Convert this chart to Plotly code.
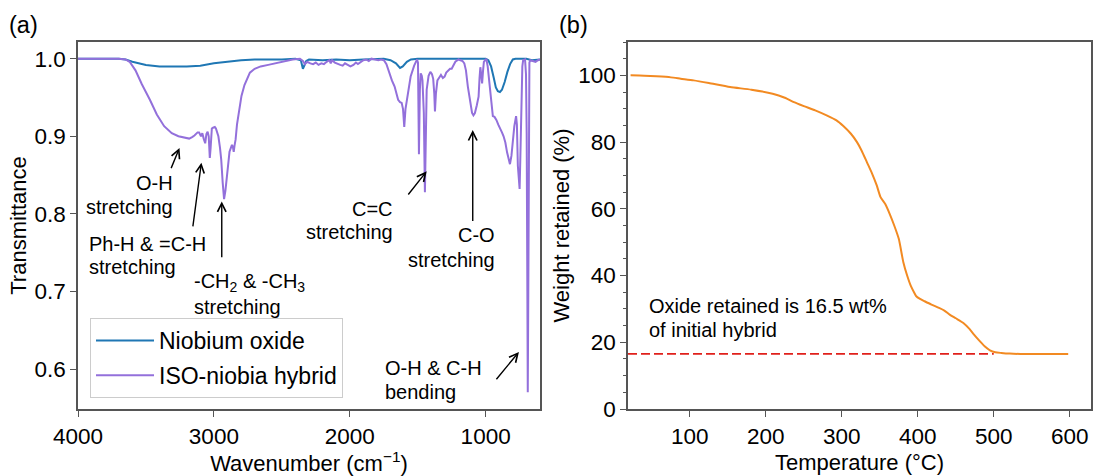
import plotly.graph_objects as go

# ---------------- data: FTIR (panel a) ----------------
wn_oxide = [4000, 3700, 3650, 3600, 3500, 3400, 3300, 3200, 3100, 3000, 2900, 2800, 2700, 2500,
            2400, 2360, 2345, 2335, 2320, 2300, 2200, 2100, 2000, 1900, 1750, 1700, 1660, 1630,
            1610, 1580, 1550, 1500, 1000, 980, 960, 940, 925, 910, 895, 880, 860, 840, 820, 800,
            780, 700, 660, 600]
t_oxide = [1.0, 1.0, 0.999, 0.996, 0.992, 0.990, 0.990, 0.990, 0.991, 0.994, 0.996, 0.998, 0.999, 0.999,
           1.0, 0.998, 0.987, 0.992, 0.997, 0.999, 0.998, 0.999, 0.998, 0.999, 1.0, 0.998, 0.994, 0.988,
           0.990, 0.996, 0.999, 1.0, 1.0, 0.998, 0.990, 0.975, 0.963, 0.958, 0.957, 0.960, 0.970, 0.983,
           0.993, 0.999, 1.0, 1.0, 0.998, 0.999]

wn_hybrid = [4000, 3700, 3650, 3620, 3577, 3530, 3471, 3420, 3366, 3310, 3261, 3220, 3182, 3160, 3143,
             3120, 3109, 3095, 3085, 3075, 3064, 3055, 3046, 3038, 3030, 3024, 3015, 3006, 2993, 2985,
             2967, 2955, 2946, 2935, 2925, 2915, 2906, 2895, 2885, 2875, 2867, 2860, 2854, 2848, 2840,
             2830, 2814, 2797, 2775, 2755, 2735, 2700, 2656, 2600, 2577, 2520, 2472, 2420, 2367, 2345,
             2330, 2314, 2290, 2270, 2250, 2230, 2209, 2190, 2170, 2150, 2140, 2130, 2110, 2090, 2070,
             2052, 2035, 2015, 1995, 1973, 1955, 1940, 1920, 1900, 1880, 1860, 1841, 1820, 1790, 1770,
             1749, 1730, 1710, 1690, 1670, 1660, 1644, 1630, 1618, 1608, 1599, 1590, 1583, 1570, 1552,
             1526, 1505, 1498, 1491, 1484, 1478, 1470, 1465, 1455, 1447, 1440, 1434, 1420, 1407, 1395,
             1386, 1378, 1373, 1366, 1355, 1340, 1329, 1315, 1302, 1290, 1276, 1262, 1250, 1235, 1223,
             1200, 1184, 1170, 1157, 1145, 1131, 1115, 1100, 1090, 1079, 1065, 1052, 1045, 1039, 1033,
             1026, 1019, 1013, 1000, 994, 985, 973, 960, 947, 935, 921, 907, 894, 880, 868, 855, 842,
             830, 821, 810, 800, 789, 776, 770, 763, 756, 750, 745, 737, 730, 724, 710, 703, 698, 693,
             690, 686, 682, 678, 672, 650, 633, 615, 600]
t_hybrid = [1.0, 1.0, 0.999, 0.996, 0.985, 0.967, 0.947, 0.928, 0.913, 0.904, 0.900, 0.898, 0.897, 0.899, 0.901,
            0.905, 0.905, 0.900, 0.904, 0.897, 0.891, 0.903, 0.906, 0.900, 0.872, 0.885, 0.910, 0.911, 0.912, 0.910,
            0.900, 0.885, 0.870, 0.840, 0.819, 0.830, 0.847, 0.870, 0.880, 0.885, 0.889, 0.886, 0.880, 0.888, 0.896,
            0.915, 0.934, 0.952, 0.966, 0.975, 0.982, 0.987, 0.990, 0.992, 0.993, 0.995, 0.997, 0.999, 1.0, 0.997,
            0.993, 0.996, 0.994, 0.993, 0.995, 0.992, 0.994, 0.993, 0.996, 0.998, 0.994, 0.998, 0.995, 0.993, 0.992,
            0.991, 0.994, 0.992, 0.990, 0.992, 0.995, 0.993, 0.996, 0.998, 0.999, 0.997, 1.0, 0.999, 0.998, 0.999,
            0.998, 0.993, 0.981, 0.972, 0.964, 0.958, 0.947, 0.944, 0.943, 0.935, 0.912, 0.935, 0.943, 0.962, 0.977,
            0.991, 0.999, 0.995, 0.877, 0.960, 0.981, 0.978, 0.972, 0.930, 0.828, 0.900, 0.960, 0.978, 0.983, 0.980,
            0.974, 0.955, 0.932, 0.955, 0.972, 0.976, 0.979, 0.975, 0.977, 0.982, 0.985, 0.987, 0.987, 0.993, 0.996,
            0.999, 0.998, 0.997, 0.994, 0.985, 0.964, 0.945, 0.930, 0.927, 0.930, 0.940, 0.951, 0.975, 0.989, 0.980,
            0.968, 0.985, 0.996, 0.999, 0.999, 0.990, 0.972, 0.950, 0.926, 0.925, 0.921, 0.915, 0.909, 0.905, 0.900, 0.892, 0.879,
            0.868, 0.864, 0.875, 0.895, 0.913, 0.926, 0.915, 0.862, 0.835, 0.832, 0.870, 0.947, 0.990, 0.998, 0.999, 0.980, 0.904, 0.700,
            0.570, 0.700, 0.950, 0.995, 0.998, 0.997, 0.996, 0.998, 0.999]

# ---------------- data: TGA (panel b) ----------------
temp_c = [22, 40, 56, 75, 88, 105, 125, 153, 181, 209, 225, 237, 250, 265, 280, 293, 302, 312, 320, 326,
          333, 340, 346, 351, 357, 363, 369, 375, 381, 386, 391, 395, 398, 403, 409, 418, 428, 435, 442,
          450, 460, 468, 474, 481, 488, 495, 502, 510, 521, 535, 553, 575, 598]
weight_pct = [100.0, 99.9, 99.7, 99.4, 99.0, 98.5, 97.7, 96.5, 95.7, 94.5, 93.3, 92.0, 90.8, 89.5, 88.0, 86.5,
              84.8, 82.5, 80.0, 77.5, 74.0, 70.5, 67.0, 63.5, 61.5, 58.5, 55.0, 51.0, 44.0, 40.0, 36.8, 35.0,
              33.8, 33.0, 32.3, 31.3, 30.3, 29.5, 28.3, 27.2, 25.8, 24.0, 22.3, 20.5, 18.8, 17.6, 17.0, 16.8,
              16.6, 16.5, 16.5, 16.5, 16.5]
oxide_level_t = [18.6, 500]
oxide_level_w = [16.5, 16.5]

ftir_ticks = [4000, 3000, 2000, 1000]
trans_ticks = [0.6, 0.7, 0.8, 0.9, 1.0]
temp_ticks = [100, 200, 300, 400, 500, 600]
weight_ticks = [0, 20, 40, 60, 80, 100]

# ---------------- figure ----------------
W, H = 1094, 476
FONT = "Liberation Sans, Arial, sans-serif"
AX = "#555555"
BLUE = "#1f77b4"
PURPLE = "#9370DB"
ORANGE = "#f28a22"

fig = go.Figure()
fig.add_trace(go.Scatter(x=wn_oxide, y=t_oxide, mode="lines", name="Niobium oxide",
                         line=dict(color=BLUE, width=2), legendgroup="a", xaxis="x", yaxis="y"))
fig.add_trace(go.Scatter(x=wn_hybrid, y=t_hybrid, mode="lines", name="ISO-niobia hybrid",
                         line=dict(color=PURPLE, width=2), legendgroup="b", xaxis="x", yaxis="y"))
fig.add_trace(go.Scatter(x=oxide_level_t, y=oxide_level_w, mode="lines", showlegend=False,
                         line=dict(color="#e0201b", width=1.8, dash="9px,4px"), xaxis="x2", yaxis="y2"))
fig.add_trace(go.Scatter(x=temp_c, y=weight_pct, mode="lines", showlegend=False,
                         line=dict(color=ORANGE, width=2, shape="spline", smoothing=0.6),
                         xaxis="x2", yaxis="y2"))


def px_x(p):
    return p / W


def px_y(p):
    return 1 - p / H


common = dict(showline=True, linecolor=AX, linewidth=1.5, mirror=True, ticks="outside", ticklen=6,
              tickwidth=1.3, tickcolor=AX, showgrid=False, zeroline=False, automargin=False,
              tickfont=dict(size=22.5, color="black", family=FONT))

fig.update_layout(
    template="none",
    width=W, height=H, margin=dict(l=0, r=0, t=0, b=0, autoexpand=False),
    paper_bgcolor="white", plot_bgcolor="white",
    font=dict(family=FONT, color="black"),
    xaxis=dict(domain=[px_x(78), px_x(540)], range=[4000, 600], tickvals=ftir_ticks,
               title=dict(text="Wavenumber (cm<sup>−1</sup>)", font=dict(size=22), standoff=7),
               anchor="y", **common),
    yaxis=dict(domain=[px_y(409), px_y(42)], range=[0.5485, 1.0215], tickvals=trans_ticks,
               tickformat=".1f",
               title=dict(text="Transmittance", font=dict(size=22), standoff=2),
               anchor="x", **common),
    xaxis2=dict(domain=[px_x(628), px_x(1091)], range=[18.6, 628], tickvals=temp_ticks,
                title=dict(text="Temperature (°C)", font=dict(size=22), standoff=7),
                anchor="y2", **common),
    yaxis2=dict(domain=[px_y(409), px_y(42)], range=[0, 110], tickvals=weight_ticks,
                minor=dict(dtick=5, ticks="outside", ticklen=3, tickcolor=AX, tickwidth=1, showgrid=False),
                title=dict(text="Weight retained (%)", font=dict(size=22), standoff=3),
                anchor="x2", **common),
    legend=dict(x=px_x(90), y=px_y(398), xanchor="left", yanchor="bottom",
                bgcolor="rgba(255,255,255,0.85)", bordercolor="#cccccc", borderwidth=1,
                font=dict(size=23, family=FONT, color="black"), tracegroupgap=2, itemwidth=58),
    showlegend=True,
)

ann = []
# panel labels
ann.append(dict(text="(a)", x=px_x(7), y=px_y(25), xref="paper", yref="paper", xanchor="left",
                yanchor="middle", showarrow=False, font=dict(size=23.5)))
ann.append(dict(text="(b)", x=px_x(557), y=px_y(25), xref="paper", yref="paper", xanchor="left",
                yanchor="middle", showarrow=False, font=dict(size=23.5)))

# panel (a) text lines: (text, x, y, anchor)
lines_a = [
    ("O-H", 3285, 0.840, "right"), ("stretching", 3285, 0.809, "right"),
    ("Ph-H & =C-H", 3937, 0.761, "left"), ("stretching", 3937, 0.731, "left"),
    ("-CH<sub>2</sub> & -CH<sub>3</sub>", 3160, 0.711, "left"), ("stretching", 3160, 0.680, "left"),
    ("C=C", 1665, 0.806, "right"), ("stretching", 1665, 0.776, "right"),
    ("C-O", 915, 0.773, "right"), ("stretching", 915, 0.741, "right"),
    ("O-H & C-H", 1759, 0.601, "left"), ("bending", 1759, 0.570, "left"),
]
for t, x, y, a in lines_a:
    ann.append(dict(text=t, x=x, y=y, xref="x", yref="y", xanchor=a, yanchor="middle",
                    showarrow=False, font=dict(size=20)))

# arrows: (tail_x, tail_y, head_x, head_y)
arrows_a = [
    (3319, 0.857, 3253, 0.885),
    (3156, 0.782, 3092, 0.866),
    (2942, 0.742, 2942, 0.816),
    (1578, 0.823, 1434, 0.855),
    (1095, 0.789, 1095, 0.908),
    (930, 0.585, 755, 0.622),
]
for tx, ty, hx, hy in arrows_a:
    ann.append(dict(text="", x=hx, y=hy, ax=tx, ay=ty, xref="x", yref="y", axref="x", ayref="y",
                    showarrow=True, arrowhead=5, arrowsize=1.2, arrowwidth=1.4, arrowcolor="black",
                    standoff=0, startstandoff=0))

# panel (b) text
ann.append(dict(text="Oxide retained is 16.5 wt%", x=44.2, y=30.8, xref="x2", yref="y2",
                xanchor="left", yanchor="middle", showarrow=False, font=dict(size=20)))
ann.append(dict(text="of initial hybrid", x=44.2, y=23.8, xref="x2", yref="y2",
                xanchor="left", yanchor="middle", showarrow=False, font=dict(size=20)))

fig.update_layout(annotations=ann)
fig.write_html("out.html")
